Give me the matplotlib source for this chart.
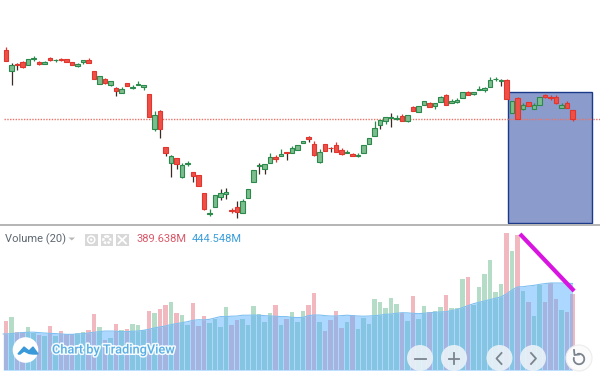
import matplotlib
matplotlib.use("Agg")
import numpy as np
import matplotlib.pyplot as plt
import matplotlib.patheffects as pe
from matplotlib.patches import Circle, Rectangle, Polygon, Arc

# prices on a nominal scale
opens = [174,152.7,160,162,158.7,164.7,162.3,160,166,163.7,165,164.7,162,157.7,162,164,152.7,139.7,144.7,138.7,135.7,131.3,140.7,136.3,139,136.7,
         129.7,95.3,112.7,76.7,61.3,65.7,46.7,60,51.7,49,30.7,9.7,16.7,27.3,29.7,14,16.7,11.3,26.3,42.3,57.7,55.3,61.3,66.7,68,72,
         71,73.7,80.7,87.3,80.3,62.3,80.3,76.3,78.7,74,71,70.3,68.3,70.7,80.3,88.3,98.7,103,105.7,105,107.7,103,117,112.3,118.7,121,
         118.3,122.3,129,120.7,122.3,126,132,130.3,134.3,134,137.3,144.7,142.7,144,111.3,125.7,114.7,121.7,115.3,119.3,128.7,127.3,126.7,115.7,121,114.3]
highs = [176.7,160.7,161.3,163.3,164.7,168,163.3,163.3,166.7,165.3,166,164.7,162,161.3,164,166,152.7,148.3,146,143.3,136.7,136.7,140.7,138.7,142.7,139.3,
         129.7,112.7,113.7,76.7,69.3,65.7,60.7,62.7,51.7,49,30.7,14.7,28.7,34.7,35.7,15.7,22.7,25.3,35.3,53.7,61.3,60,70.7,69.3,74.7,72,
         77.7,78.7,83.3,88,83,74.7,80.3,77.3,81.7,75.7,74,71.3,70.7,79.3,86.3,103,104.3,107.3,110.7,109,110,108.7,118,118,122.7,122,
         120.7,128,130,124.7,125.7,131.7,133.3,132.3,138,137.3,146.7,147,145,145.3,123.3,127,120.7,121.7,120.7,126.7,129.7,129.3,129,120.7,122.7,114.3]
lows = [162.7,139.3,154,156,158.7,162.7,159,159.7,162.7,162.3,163.3,162,158.7,157.3,160.3,160.7,145.3,139.7,140.3,138,128.3,131,138,134.7,139,134.3,
        107.3,92.7,86,68,46.7,55.3,45.7,57.7,42,38.3,14,8,16.7,24,24.7,10.7,6.3,11.3,26.3,42.3,50.3,50.3,61.3,62.3,68,64,
        71,73.7,80.7,81.7,68,61.3,73.3,71.7,72.3,68.7,71,68,67,70.7,80.3,88.3,95.3,100,97.3,104,103,102,113.3,112.3,118.7,116.7,
        115.3,122.3,119.3,120.7,121,126,129.3,129,134.3,132,137.3,143,138.3,125,111.3,105.3,114,117.7,115.3,119.3,125.7,124,120,115.7,116.3,103.3]
closes = [162.7,158.7,159.3,157.3,164.7,166,160,162,163.7,164,163.7,162,158.7,159.7,163.7,161,145.3,148.3,140.7,142.7,133.3,135,138,137.3,140,138.7,
          107.3,108.7,94.7,71.3,67.7,59.7,59,60.3,48,38.3,15.3,11.3,28.7,30.7,31.7,13,12.3,23.3,35.3,53.7,59.3,60,66.7,65.3,70.3,71.3,
          76,78.7,83.3,85.3,69.3,71.7,73.3,75.7,72.3,69.7,72.3,68,69.3,79.3,86.3,95.7,104.3,107.3,106.7,106.3,103,108.7,113.3,118,122.7,116.7,
          120.7,126.7,119.3,123,124,131.7,129.3,132.3,134.7,135.7,144,145.3,144,125,123.3,105.3,119,117.7,119.3,126.7,127,126.3,121,119.3,116.3,104.7]
last_price = 105.3

# volume in millions
volumes = [253,271,195,195,220,189,181,178,225,178,201,184,184,189,195,205,287,220,155,164,239,205,212,236,230,207,
           304,295,314,335,352,292,283,232,347,229,278,244,261,220,324,230,258,263,230,329,288,249,295,335,234,265,
           299,248,304,335,394,248,203,258,304,217,248,283,212,270,239,365,348,319,370,340,292,253,381,263,329,297,
           304,324,386,319,318,468,478,335,427,492,565,399,440,702,611,693,408,352,277,437,348,449,365,309,297,389.6]
volume_ma = [186,188,191,193,195,195,193,191,189,188,186,184,184,186,188,191,195,198,201,201,200,198,198,200,201,205,
             210,217,222,227,234,239,244,249,256,259,258,261,268,275,275,277,278,282,282,283,282,280,278,277,275,275,
             271,270,271,280,283,283,280,278,278,280,282,280,278,277,278,280,282,287,288,292,295,294,292,290,292,295,
             297,299,300,306,311,321,331,341,348,355,362,369,376,391,411,427,428,432,435,440,444,447,447,447,445,444.5]

bar_step = 5.5
x0 = 6
idx = np.arange(len(opens))
xlim = (-x0 / bar_step, (600 - x0) / bar_step)

fig = plt.figure(figsize=(6, 3.77), dpi=100)

# price pane
ax = fig.add_axes([0, 153 / 377, 1, 224 / 377])
ax.set_xlim(*xlim)
ax.set_ylim(0, 224)
ax.axis("off")
ax.add_patch(Rectangle((91.3, 1.3), 15.2, 130.4, fc="#8b9bcc", ec="#1c3a8a", lw=1.0, zorder=1))
ax.plot([-0.45, xlim[1]], [last_price, last_price], color="#e8746a", lw=1.0, ls=(0, (1, 1)), zorder=2)
for i in idx:
    o, h, l, c = opens[i], highs[i], lows[i], closes[i]
    up = c >= o
    edge = "#2a8a4c" if up else "#e0362e"
    face = "#7dbc8e" if up else "#ee5048"
    ax.plot([i, i], [l, h], color="#3c2a26" if l < min(o, c) - 3 else edge, lw=0.9, zorder=3, solid_capstyle="butt")
    ax.add_patch(Rectangle((i - 0.4, min(o, c)), 0.8, max(abs(c - o), 0.6), fc=face, ec=edge, lw=0.8, zorder=4))

# volume pane
ax2 = fig.add_axes([0, 6.7 / 377, 1, 145.3 / 377])
ax2.set_xlim(*xlim)
ax2.set_ylim(0, 744)
ax2.axis("off")
bar_colors = ["#b4dcc6" if c >= o else "#f2b8c0" for o, c in zip(opens, closes)]
ax2.bar(idx, volumes, width=0.8, color=bar_colors, zorder=1)
ma_x = np.concatenate(([-0.5], idx))
ma_y = np.concatenate(([volume_ma[0]], volume_ma))
ax2.fill_between(ma_x, 0, ma_y, color="#5ab0ff", alpha=0.5, lw=0, zorder=2)
ax2.plot(ma_x, ma_y, color="#7fc0f0", lw=0.8, zorder=3)
ax2.plot([93.45, 103.3], [698, 406], color="#d815e0", lw=3, zorder=5, solid_capstyle="butt")

# header, logo and buttons, in picture pixels
ui = fig.add_axes([0, 0, 1, 1])
ui.set_xlim(0, 600)
ui.set_ylim(377, 0)
ui.axis("off")
ui.patch.set_alpha(0)
ui.plot([0, 600], [224.5, 224.5], color="#a8a8a8", lw=1.2)

font = "Roboto"
ui.text(5, 239.5, "Volume (20)", color="#5d6670", fontsize=8, family=font, va="center")
ui.add_patch(Polygon([[68.5, 237.5], [75, 237.5], [71.8, 240.5]], fc="#b8b8b8", ec="none"))
for bx in [85, 100.5, 116]:
    ui.add_patch(Rectangle((bx, 233.5), 12.5, 12.5, fc="#d8d8d8", ec="none"))
ui.add_patch(Circle((91.2, 239.7), 3.6, fc="none", ec="white", lw=1.1))
ui.add_patch(Circle((91.2, 239.7), 1.2, fc="white", ec="none"))
ui.add_patch(Circle((106.8, 239.7), 3.4, fc="none", ec="white", lw=1.8, ls=(0, (1, 0.5))))
ui.plot([118.5, 126], [236.2, 243.4], color="white", lw=1.3)
ui.plot([118.5, 126], [243.4, 236.2], color="white", lw=1.3)
ui.text(136.5, 239.5, "389.638M", color="#d9596a", fontsize=8, family=font, va="center")
ui.text(192, 239.5, "444.548M", color="#3b9fdc", fontsize=8, family=font, va="center")

ui.add_patch(Circle((25.5, 350), 12.8, fc="white", ec="none", zorder=6))
ui.add_patch(Polygon([[18, 354], [24, 347], [29, 351], [33, 347], [38, 354], [33, 354], [29, 353.5], [24, 351], [20, 354]],
                     fc="#3a9ad9", ec="#3a9ad9", lw=1, zorder=7))
ui.text(52, 350, "Chart by TradingView", color="#5aaee4", fontsize=9.2, family=font, fontweight="medium", va="center", zorder=7,
        path_effects=[pe.withStroke(linewidth=2.2, foreground="#f4fbff")])

for bx in [420, 454, 499.5, 533]:
    ui.add_patch(Circle((bx, 358), 13, fc="#eef3f8", ec="none", alpha=0.88, zorder=6))
ui.add_patch(Circle((579, 358), 13, fc="#fbfbfb", ec="#ececec", lw=0.8, zorder=6))
glyph = dict(color="#7b848e", lw=1.3, zorder=7)
ui.plot([415, 425.5], [358.5, 358.5], **glyph)
ui.plot([448.5, 459], [358.5, 358.5], **glyph)
ui.plot([453.8, 453.8], [353, 363.5], **glyph)
ui.plot([501.5, 496.5, 501.5], [353, 358.5, 364], **glyph)
ui.plot([531, 536, 531], [353, 358.5, 364], **glyph)
ui.add_patch(Arc((579, 359), 10.5, 10.5, theta1=-110, theta2=200, color="#7b848e", lw=1.3, zorder=7))
ui.plot([574, 574.5, 579], [350, 355, 354.5], **glyph)

fig.savefig("out.png", dpi=100)
